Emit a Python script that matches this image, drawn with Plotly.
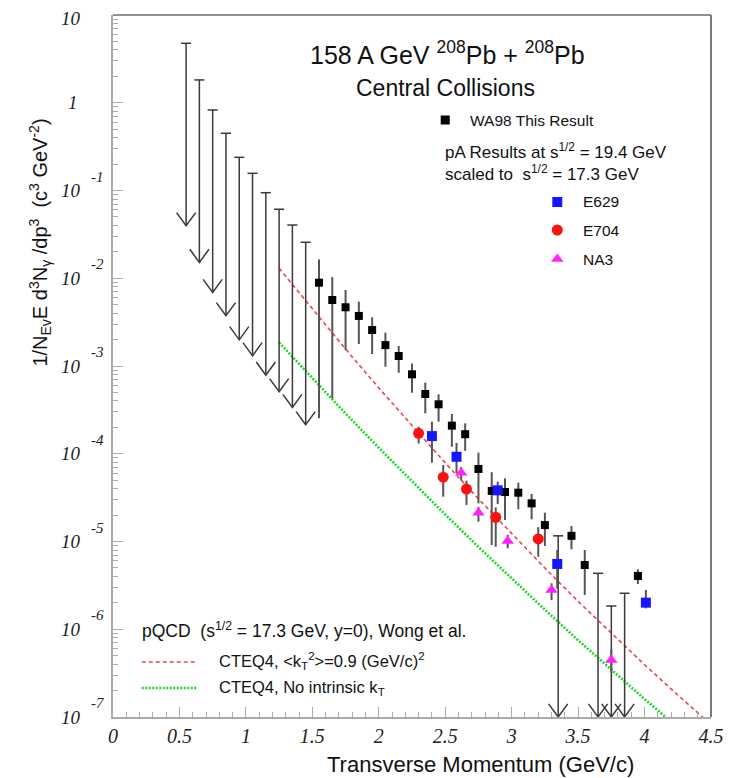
import plotly.graph_objects as go

# ---------------- data ----------------
# WA98 central Pb+Pb photon spectrum (value, upper edge, lower edge)
wa98_x = [1.55, 1.65, 1.75, 1.85, 1.95, 2.05, 2.15, 2.25, 2.35, 2.45, 2.55, 2.65,
          2.75, 2.85, 2.95, 3.05, 3.15, 3.25, 3.45, 3.55, 3.95]
wa98_y = [8.9e-3, 5.65e-3, 4.67e-3, 3.72e-3, 2.57e-3, 1.73e-3, 1.30e-3, 8.04e-4,
          4.80e-4, 3.66e-4, 2.09e-4, 1.67e-4, 6.70e-5, 3.77e-5, 3.66e-5, 3.60e-5,
          2.72e-5, 1.54e-5, 1.16e-5, 5.40e-6, 4.05e-6]
wa98_hi = [1.64e-2, 1.03e-2, 7.34e-3, 5.41e-3, 3.59e-3, 2.40e-3, 1.69e-3, 1.07e-3,
           6.46e-4, 4.76e-4, 2.84e-4, 2.22e-4, 1.03e-4, 6.15e-5, 5.25e-5, 4.68e-5,
           3.48e-5, 2.13e-5, 1.50e-5, 8.0e-6, 4.82e-6]
wa98_lo = [2.54e-4, 4.28e-4, 1.52e-3, 1.78e-3, 1.37e-3, 9.82e-4, 8.39e-4, 4.97e-4,
           2.89e-4, 2.32e-4, 1.20e-4, 1.08e-4, 2.72e-5, 9.12e-6, 1.76e-5, 2.33e-5,
           1.79e-5, 8.89e-6, 8.15e-6, 2.46e-6, 3.28e-6]

# WA98 upper limits
ul_x = [0.55, 0.65, 0.75, 0.85, 0.95, 1.05, 1.15, 1.25, 1.35, 1.45,
        3.35, 3.65, 3.75, 3.85]
ul_y = [4.76, 1.82, 0.827, 0.449, 0.239, 0.157, 0.0944, 0.0611, 0.0404, 0.0257,
        1.16e-5, 4.34e-6, 1.84e-6, 2.57e-6]

# pA results scaled to sqrt(s)=17.3 GeV
e629_x = [2.40, 2.585, 2.895, 3.343, 4.01]
e629_y = [1.59e-4, 9.24e-5, 3.83e-5, 5.55e-6, 2.01e-6]
e629_hi = [2.32e-4, 1.33e-4, 4.81e-5, 8.0e-6, 2.80e-6]
e629_lo = [7.91e-5, 6.04e-5, 2.67e-5, 2.9e-6, 1.73e-6]

e704_x = [2.30, 2.485, 2.66, 2.88, 3.20]
e704_y = [1.71e-4, 5.40e-5, 3.96e-5, 1.89e-5, 1.07e-5]
e704_hi = [2.03e-4, 7.45e-5, 4.93e-5, 2.45e-5, 1.46e-5]
e704_lo = [1.31e-4, 3.24e-5, 2.61e-5, 8.73e-6, 6.71e-6]

na3_x = [2.62, 2.75, 2.97, 3.30, 3.75]
na3_y = [6.08e-5, 2.13e-5, 1.01e-5, 2.80e-6, 4.47e-7]
na3_hi = [7.06e-5, 2.47e-5, 1.19e-5, 3.34e-6, 5.9e-7]
na3_lo = [4.93e-5, 1.68e-5, 8.36e-6, 2.15e-6, 3.2e-7]

# pQCD curves (Wong et al.)
th_x = [1.25, 1.5, 1.75, 2.0, 2.25, 2.5, 2.75, 3.0, 3.25, 3.5, 3.75, 4.0, 4.25, 4.5]
cteq_kt = [1.30e-2, 4.45e-3, 1.56e-3, 5.62e-4, 2.08e-4, 7.87e-5, 3.06e-5, 1.22e-5,
           4.98e-6, 2.08e-6, 8.95e-7, 3.94e-7, 1.78e-7, 8.2e-8]
cteq_nokt = [1.85e-3, 7.23e-4, 2.88e-4, 1.17e-4, 4.83e-5, 2.03e-5, 8.67e-6, 3.77e-6,
             1.67e-6, 7.50e-7, 3.44e-7, 1.60e-7, 7.6e-8, 3.4e-8]

x_ticks = [0, 0.5, 1, 1.5, 2, 2.5, 3, 3.5, 4, 4.5]
x_ticktext = ["0", "0.5", "1", "1.5", "2", "2.5", "3", "3.5", "4", "4.5"]
y_exps = [1, 0, -1, -2, -3, -4, -5, -6, -7]

# ---------------- style ----------------
SANS = "Liberation Sans, Arial, sans-serif"
SERIF = "Liberation Serif, Times New Roman, serif"
YMIN = 1e-7
ARROW_DEC = 2.08   # arrow length in decades
HEAD_DEC = 0.15    # arrow head height in decades
HEAD_W = 0.072     # arrow head half width (GeV)
CAP_W = 0.038      # cap half width (GeV)

# page geometry (the html body adds an 8px margin)
BODY = 8
PL, PR, PT, PB = 113, 716, 15, 717   # plot area in page pixels


def px(x):
    return (x - PL) / (PR - PL)


def py(y):
    return (PB - y) / (PB - PT)


fig = go.Figure()

# theory curves
fig.add_trace(go.Scatter(x=th_x, y=cteq_kt, mode="lines",
                         line=dict(color="#e8474f", width=1.6, dash="4px,3px"),
                         hoverinfo="skip"))
fig.add_trace(go.Scatter(x=th_x, y=cteq_nokt, mode="lines",
                         line=dict(color="#1fd81f", width=2.6, dash="2px,1.5px"),
                         hoverinfo="skip"))

# upper-limit arrows
ax_, ay_ = [], []
for x, u in zip(ul_x, ul_y):
    tip = max(u / 10 ** ARROW_DEC, YMIN)
    top = tip * 10 ** HEAD_DEC
    ax_ += [x, x, None, x - CAP_W, x + CAP_W, None,
            x - HEAD_W, x, x + HEAD_W, None]
    ay_ += [u, tip, None, u, u, None, top, tip, top, None]
fig.add_trace(go.Scatter(x=ax_, y=ay_, mode="lines",
                         line=dict(color="#3a3a3a", width=1.5),
                         cliponaxis=False, hoverinfo="skip"))


def pts(x, y, hi, lo, color, symbol, size):
    fig.add_trace(go.Scatter(
        x=x, y=y, mode="markers",
        marker=dict(color=color, symbol=symbol, size=size, line=dict(width=0)),
        error_y=dict(type="data", symmetric=False,
                     array=[h - v for h, v in zip(hi, y)],
                     arrayminus=[v - l for v, l in zip(y, lo)],
                     color="#555555", thickness=2, width=0),
        hoverinfo="skip"))


pts(wa98_x, wa98_y, wa98_hi, wa98_lo, "#000000", "square", 8)
pts(e704_x, e704_y, e704_hi, e704_lo, "#ff1010", "circle", 11)
pts(na3_x, na3_y, na3_hi, na3_lo, "#ff22ff", "triangle-up", 11)
pts(e629_x, e629_y, e629_hi, e629_lo, "#1515ff", "square", 10)

# legend marker samples (pixel-coordinate overlay axes)
leg = [(448, 120, "#000000", "square", 9),
       (561, 202, "#1515ff", "square", 10),
       (561, 230, "#ff1010", "circle", 11),
       (561, 259, "#ff22ff", "triangle-up", 11)]
for lx, ly, c, s, sz in leg:
    fig.add_trace(go.Scatter(x=[lx], y=[ly], xaxis="x2", yaxis="y2", mode="markers",
                             marker=dict(color=c, symbol=s, size=sz, line=dict(width=0)),
                             hoverinfo="skip"))
fig.add_trace(go.Scatter(x=[142, 197], y=[662, 662], xaxis="x2", yaxis="y2", mode="lines",
                         line=dict(color="#e8474f", width=1.6, dash="4px,3px"),
                         hoverinfo="skip"))
fig.add_trace(go.Scatter(x=[142, 197], y=[688, 688], xaxis="x2", yaxis="y2", mode="lines",
                         line=dict(color="#1fd81f", width=2.6, dash="2px,1.5px"),
                         hoverinfo="skip"))

ann = []


def txt(x, y, t, size, xanchor="left", font=SANS, color="#111", **kw):
    ann.append(dict(x=px(x), y=py(y), xref="paper", yref="paper", text=t, showarrow=False,
                    xanchor=xanchor, yanchor="middle",
                    font=dict(family=font, size=size, color=color), **kw))


txt(450, 53, "158 A GeV <sup>208</sup>Pb + <sup>208</sup>Pb", 25, "center")
txt(448, 88, "Central Collisions", 23, "center")
txt(471, 120, "WA98 This Result", 15.5)
txt(446, 151, "pA Results at s<sup>1/2</sup> = 19.4 GeV", 17)
txt(446, 173, "scaled to  s<sup>1/2</sup> = 17.3 GeV", 17)
txt(585, 202, "E629", 15.5)
txt(585, 230, "E704", 15.5)
txt(585, 259, "NA3", 15.5)
txt(140, 630, "pQCD  (s<sup>1/2</sup> = 17.3 GeV, y=0), Wong et al.", 17.5)
txt(218, 661, "CTEQ4, &lt;k<sub>T</sub><sup>2</sup>&gt;=0.9 (GeV/c)<sup>2</sup>", 16.5)
txt(218, 688, "CTEQ4, No intrinsic k<sub>T</sub>", 16.5)
txt(484, 764, "Transverse Momentum (GeV/c)", 22, "center")
txt(40, 243, "1/N<sub>Ev</sub>E d<sup>3</sup>N<sub>γ</sub> /dp<sup>3</sup>  (c<sup>3</sup> GeV<sup>-2</sup>)",
    20, "center", textangle=-90)

# y tick labels (ROOT style 10^n)
for k in y_exps:
    base = "10" if k != 0 else "1"
    ann.append(dict(x=px(71 if k != 0 else 73), y=k, xref="paper", yref="y",
                    text="<i>%s</i>" % base,
                    showarrow=False, xanchor="center", yanchor="middle",
                    yshift=-3 if k == 1 else 0,
                    font=dict(family=SERIF, size=19, color="#222")))
    if k not in (0, 1):
        ann.append(dict(x=px(89), y=k, xref="paper", yref="y", text="<i>%d</i>" % k,
                        showarrow=False, xanchor="left", yanchor="middle", yshift=14,
                        font=dict(family=SERIF, size=15, color="#222")))

shapes = [
    dict(type="line", xref="paper", yref="paper", x0=0, x1=1, y0=1, y1=1,
         line=dict(color="#6a6a6a", width=1.6)),
    dict(type="line", xref="paper", yref="paper", x0=1, x1=1, y0=0, y1=1,
         line=dict(color="#7a7a7a", width=2)),
]

fig.update_layout(
    width=731 - BODY, height=778 - BODY,
    margin=dict(l=PL - BODY, r=731 - PR, t=PT - BODY, b=778 - PB, pad=0),
    paper_bgcolor="white", plot_bgcolor="white",
    showlegend=False,
    annotations=ann, shapes=shapes,
    xaxis=dict(range=[0, 4.5], tickvals=x_ticks,
               ticktext=["<i>%s</i>" % t for t in x_ticktext],
               tickfont=dict(family=SERIF, size=20, color="#222"),
               showline=True, linecolor="#aaaaaa", linewidth=1.5,
               ticks="inside", ticklen=10, tickcolor="#aaaaaa", tickwidth=1,
               minor=dict(dtick=0.1, ticks="inside", ticklen=5, tickcolor="#aaaaaa"),
               showgrid=False, zeroline=False),
    yaxis=dict(type="log", range=[-7, 1], dtick=1, showticklabels=False,
               showline=True, linecolor="#aaaaaa", linewidth=1.5,
               ticks="inside", ticklen=10, tickcolor="#aaaaaa", tickwidth=1,
               minor=dict(dtick="D1", ticks="inside", ticklen=5, tickcolor="#aaaaaa"),
               showgrid=False, zeroline=False),
    xaxis2=dict(range=[PL, PR], overlaying="x", visible=False),
    yaxis2=dict(range=[PB, PT], overlaying="y", visible=False),
)

fig.write_html("out.html")
